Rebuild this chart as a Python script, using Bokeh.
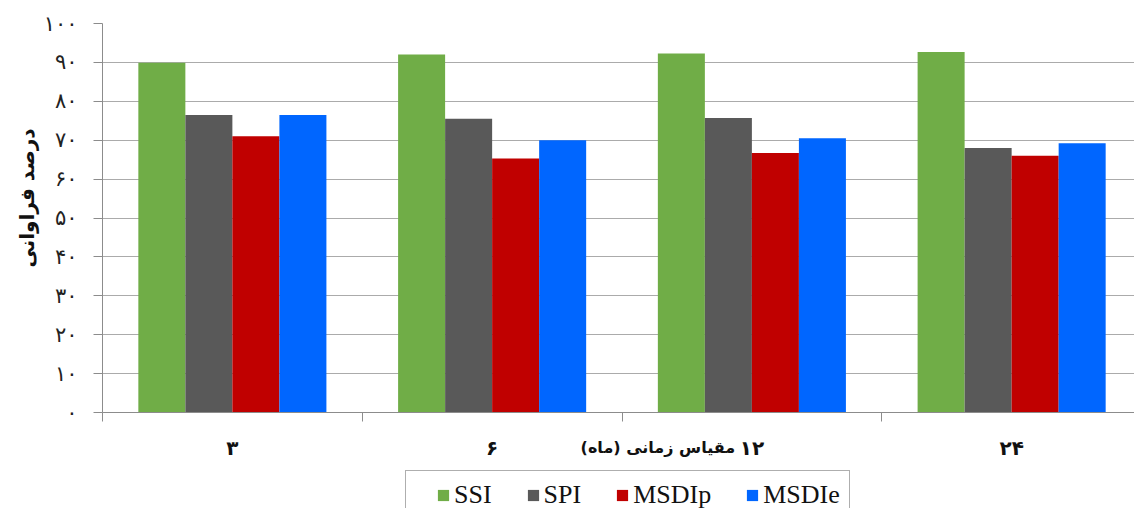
import numpy as np
from bokeh.plotting import figure
from bokeh.layouts import column
from bokeh.models import Range1d, FixedTicker, Legend, LegendItem, LinearAxis
from bokeh.embed import file_html
from bokeh.resources import INLINE

# ---- data ----
categories = ["۳", "۶", "۱۲", "۲۴"]
series_names = ["SSI", "SPI", "MSDIp", "MSDIe"]
ssi = [89.9, 92.0, 92.3, 92.7]
spi = [76.5, 75.5, 75.7, 68.0]
msdip = [71.0, 65.3, 66.7, 66.0]
msdie = [76.5, 70.0, 70.5, 69.2]
colors = ["#70AD47", "#595959", "#C00000", "#0066FF"]
y_ticks = [0, 10, 20, 30, 40, 50, 60, 70, 80, 90, 100]
y_tick_labels = ["۰", "۱۰", "۲۰", "۳۰", "۴۰", "۵۰", "۶۰", "۷۰", "۸۰", "۹۰", "۱۰۰"]
x_title = "مقیاس زمانی (ماه)"
y_title = "درصد فراوانی"

ARABIC_FONT = "DejaVu Sans"

n = len(categories)
centers = np.arange(n) + 0.5
bar_w = 0.181
all_vals = [ssi, spi, msdip, msdie]

# ---------------- main chart ----------------
p = figure(width=1134, height=468,
           x_range=Range1d(0, 3.973), y_range=Range1d(0, 100),
           output_backend="svg", toolbar_location=None,
           min_border_left=101, min_border_right=0,
           min_border_top=23, min_border_bottom=56)
p.outline_line_color = None
p.background_fill_color = "white"
p.border_fill_color = "white"

for i, (name, vals, col) in enumerate(zip(series_names, all_vals, colors)):
    p.vbar(x=centers + (i - 1.5) * bar_w, top=vals, width=bar_w,
           fill_color=col, line_color=None)

p.xgrid.visible = False
p.ygrid.grid_line_color = "#ABABAB"
p.ygrid.grid_line_width = 1.2

# y axis
yax = p.yaxis[0]
yax.ticker = FixedTicker(ticks=y_ticks)
yax.major_label_overrides = {t: l for t, l in zip(y_ticks, y_tick_labels)}
yax.minor_tick_line_color = None
yax.major_tick_out = 9
yax.major_tick_in = 0
yax.major_tick_line_color = "#8C8C8C"
yax.axis_line_color = "#8C8C8C"
yax.major_label_standoff = 16
yax.major_label_text_font = ARABIC_FONT
yax.major_label_text_font_size = "21px"
yax.major_label_text_color = "#222222"

# y title: a single rotated label on an extra left axis (lets it sit where the reference has it)
y_title_pos = 73
ytitle_ax = LinearAxis(ticker=FixedTicker(ticks=[y_title_pos]),
                       major_label_overrides={y_title_pos: y_title},
                       major_label_orientation=np.pi / 2,
                       axis_line_color=None, major_tick_line_color=None,
                       minor_tick_line_color=None,
                       major_tick_out=0, major_tick_in=0,
                       major_label_standoff=13,
                       major_label_text_font=ARABIC_FONT,
                       major_label_text_font_size="20px",
                       major_label_text_font_style="bold",
                       major_label_text_color="#111111")
p.add_layout(ytitle_ax, "left")

# x axis: labels at category centres, ticks at category boundaries
xax = p.xaxis[0]
xax.ticker = FixedTicker(ticks=list(centers), minor_ticks=list(np.arange(n + 1)))
xax.major_label_overrides = {float(c): l for c, l in zip(centers, categories)}
xax.major_tick_line_color = None
xax.major_tick_out = 0
xax.major_tick_in = 0
xax.minor_tick_out = 9
xax.minor_tick_in = 0
xax.minor_tick_line_color = "#8C8C8C"
xax.axis_line_color = "#8C8C8C"
xax.major_label_standoff = 14
xax.major_label_text_font = ARABIC_FONT
xax.major_label_text_font_size = "20px"
xax.major_label_text_font_style = "bold"
xax.major_label_text_color = "#111111"

# x title: on the same line as the category labels, between "6" and "12"
x_title_pos = 2.138
xtitle_ax = LinearAxis(ticker=FixedTicker(ticks=[x_title_pos]),
                       major_label_overrides={x_title_pos: x_title},
                       axis_line_color=None, major_tick_line_color=None,
                       minor_tick_line_color=None,
                       major_tick_out=0, major_tick_in=0,
                       major_label_standoff=-25,
                       major_label_text_font=ARABIC_FONT,
                       major_label_text_font_size="16px",
                       major_label_text_font_style="bold",
                       major_label_text_color="#111111")
p.add_layout(xtitle_ax, "below")

# ---------------- legend strip ----------------
q = figure(width=1134, height=40, x_range=Range1d(0, 1), y_range=Range1d(0, 1),
           output_backend="svg", toolbar_location=None,
           x_axis_type=None, y_axis_type=None,
           min_border_left=0, min_border_right=0, min_border_top=0, min_border_bottom=0)
q.outline_line_color = None
q.xgrid.visible = False
q.ygrid.visible = False
q.border_fill_color = "white"

leg_renderers = []
for i, (name, vals, col) in enumerate(zip(series_names, all_vals, colors)):
    r = q.vbar(x=centers + (i - 1.5) * bar_w, top=vals, width=bar_w,
               fill_color=col, line_color=None, visible=False)
    leg_renderers.append(r)

leg = Legend(items=[LegendItem(label=nm, renderers=[r]) for nm, r in zip(series_names, leg_renderers)])
leg.orientation = "horizontal"
leg.location = (303, -12)
leg.padding = 9
leg.spacing = 34
leg.label_standoff = 4
leg.glyph_width = 14
leg.glyph_height = 14
leg.label_text_font = "Liberation Serif"
leg.label_text_font_size = "26px"
leg.label_text_color = "#111111"
leg.border_line_color = "#5E5E5E"
leg.border_line_width = 1.5
leg.background_fill_alpha = 1
leg.title = " "
leg.title_location = "left"
leg.title_text_font_size = "1px"
leg.title_standoff = 20
q.add_layout(leg, "center")

layout = column(p, q, spacing=0)
open("out.html", "w").write(file_html(layout, INLINE))
